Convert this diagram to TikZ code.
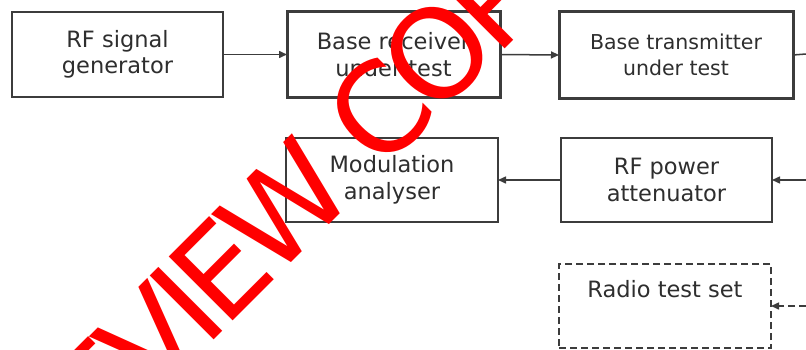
\documentclass[tikz,border=0pt]{standalone}
\usepackage{fontspec}
\setmainfont{DejaVu Sans}
\newfontfamily\wmfont[LetterSpace=-8]{DejaVu Sans}
\usetikzlibrary{arrows.meta}
\definecolor{linegray}{HTML}{3C3C3C}
\definecolor{textgray}{HTML}{2E2E2E}
\begin{document}
\begin{tikzpicture}[x=1pt,y=1pt,
  box/.style={draw=linegray, line width=1.5pt, align=center, text=textgray,
    font=\fontsize{22.5}{26.5}\selectfont, inner sep=0pt, outer sep=0pt},
  thickbox/.style={box, line width=3pt},
  dbox/.style={box, dash pattern=on 7pt off 4pt},
  arr/.style={draw=linegray, line width=1.5pt, -{Triangle[length=8pt,width=7pt]}},
  darr/.style={arr, dash pattern=on 7pt off 4pt}]
\useasboundingbox (0,0) rectangle (806,349);
\clip (0,0) rectangle (806,349);
\fill[white] (0,0) rectangle (806,349);
% boxes
\node[box, minimum width=211pt, minimum height=85pt] (gen) at (117.5,294.5) {RF signal\\generator};
\node[thickbox, minimum width=213pt, minimum height=85pt] (recv) at (393.5,294.5) {Base receiver\\under test};
\node[thickbox, minimum width=234pt, minimum height=86pt, font=\fontsize{20.5}{26}\selectfont] (trans) at (676,294) {Base transmitter\\under test};
\node[box, minimum width=212pt, minimum height=84pt] (mod) at (392,169) {Modulation\\analyser};
\node[box, minimum width=211pt, minimum height=84pt] (att) at (666.5,169) {RF power\\attenuator};
\node[dbox, minimum width=212pt, minimum height=84pt] (radio) at (665,43) {};
\node[text=textgray, font=\fontsize{22.5}{26.5}\selectfont, anchor=base] (radiotxt) at (665,52) {Radio test set};
% free ends
\coordinate (r1) at (806,295);
\coordinate (r2) at (806,169);
\coordinate (r3) at (806,43);
% connectors
\draw[arr] (gen.east) -- (recv.west);
\draw[arr] (recv.east) -- (trans.west);
\draw[draw=linegray, line width=1.5pt] (trans.east) -- (r1);
\draw[arr] (r2) -- (att.east);
\draw[arr] (att.west) -- (mod.east);
\draw[darr] (r3) -- (radio.east);
% watermark
\node[rotate=45, text=red, font=\wmfont\fontsize{124}{124}\selectfont] (wm) at (267,126) {PREVIEW COPY};
\end{tikzpicture}
\end{document}
